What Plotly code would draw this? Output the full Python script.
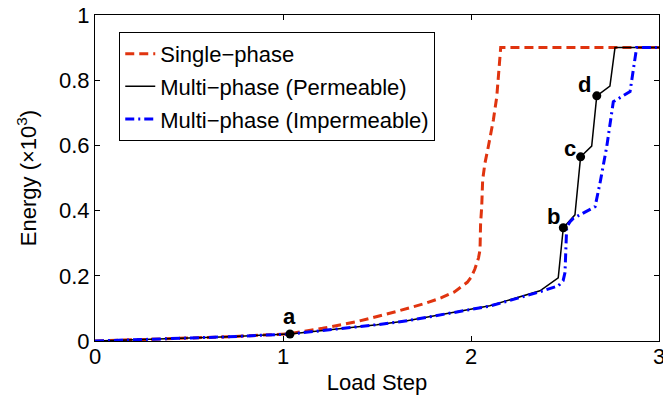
import plotly.graph_objects as go

# ---- data ----
single_x = [0, 0.35, 0.71, 1.03, 1.21, 1.39, 1.6, 1.76, 1.84, 1.91, 1.98, 2.0, 2.02, 2.04,
            2.048, 2.051, 2.057, 2.062, 2.074, 2.092, 2.119, 2.137, 2.154, 2.158, 3.0]
single_y = [0, 0.006, 0.013, 0.022, 0.039, 0.059, 0.09, 0.116, 0.132, 0.150, 0.180, 0.195,
            0.22, 0.255, 0.28, 0.36, 0.412, 0.494, 0.545, 0.596, 0.678, 0.749, 0.852, 0.9, 0.9]

perm_x = [0, 0.35, 0.71, 1.037, 1.3, 1.5, 1.66, 1.835, 2.1, 2.367, 2.464, 2.491, 2.553,
          2.583, 2.642, 2.669, 2.739, 2.766, 3.0]
perm_y = [0, 0.006, 0.013, 0.0215, 0.037, 0.050, 0.062, 0.080, 0.108, 0.154, 0.194, 0.3475,
          0.387, 0.565, 0.598, 0.752, 0.782, 0.9, 0.9]

imp_x = [0, 0.35, 0.71, 1.037, 1.3, 1.5, 1.66, 1.835, 2.1, 2.367, 2.464, 2.49, 2.50, 2.509,
         2.527, 2.544, 2.66, 2.686, 2.722, 2.757, 2.846, 2.881, 3.0]
imp_y = [0, 0.006, 0.013, 0.0215, 0.037, 0.050, 0.062, 0.080, 0.107, 0.151, 0.169, 0.185,
         0.21, 0.35, 0.366, 0.376, 0.412, 0.484, 0.596, 0.734, 0.765, 0.9, 0.9]

point_labels = ["a", "b", "c", "d"]
point_x = [1.037, 2.491, 2.583, 2.669]
point_y = [0.0215, 0.3475, 0.565, 0.752]
label_dx = [0, -10, -11, -12]
label_dy = [17, 11, 8, 11]

x_ticks = [0, 1, 2, 3]
y_ticks = [0, 0.2, 0.4, 0.6, 0.8, 1]
y_tick_text = ["0", "0.2", "0.4", "0.6", "0.8", "1"]

FONT = "Liberation Sans, Arial, sans-serif"
FS = 22

fig = go.Figure()
fig.add_trace(go.Scatter(x=single_x, y=single_y, mode="lines", name="Single\u2212phase",
                         legendgroup="g1",
                         line=dict(color="#E0340F", width=3, dash="9px,5px")))
fig.add_trace(go.Scatter(x=perm_x, y=perm_y, mode="lines", name="Multi\u2212phase (Permeable)",
                         legendgroup="g2",
                         line=dict(color="black", width=1.5)))
fig.add_trace(go.Scatter(x=imp_x, y=imp_y, mode="lines", name="Multi\u2212phase (Impermeable)",
                         legendgroup="g3",
                         line=dict(color="#0000FF", width=3, dash="9px,4px,2px,4px")))
fig.add_trace(go.Scatter(x=point_x, y=point_y, mode="markers", showlegend=False,
                         marker=dict(color="black", size=9)))

for lab, px, py, dx, dy in zip(point_labels, point_x, point_y, label_dx, label_dy):
    fig.add_annotation(x=px, y=py, xref="x", yref="y", text="<b>%s</b>" % lab,
                       showarrow=False, xshift=dx, yshift=dy,
                       font=dict(family=FONT, size=FS, color="black"))

axis_common = dict(showline=True, linecolor="black", linewidth=1, mirror="ticks",
                   ticks="inside", ticklen=5, tickcolor="black", tickwidth=1,
                   showgrid=False, zeroline=False, ticklabeloverflow="allow",
                   automargin=False,
                   tickfont=dict(family=FONT, size=FS, color="black"))

fig.update_xaxes(range=[0, 3], tickvals=x_ticks, ticklabelstandoff=-4,
                 title=dict(text="Load Step", font=dict(family=FONT, size=FS, color="black"),
                            standoff=6),
                 **axis_common)
fig.update_yaxes(range=[0, 1], tickvals=y_ticks, ticktext=y_tick_text,
                 title=dict(text="Energy (\u00d710<sup>3</sup>)",
                            font=dict(family=FONT, size=FS, color="black"), standoff=16),
                 **axis_common)

fig.update_layout(
    width=663, height=395,
    margin=dict(l=95, r=4, t=15, b=54, autoexpand=False),
    plot_bgcolor="white", paper_bgcolor="white",
    font=dict(family=FONT, size=FS, color="black"),
    legend=dict(x=0.043, y=0.948, xanchor="left", yanchor="top",
                bordercolor="black", borderwidth=1, bgcolor="white",
                tracegroupgap=1, font=dict(family=FONT, size=FS, color="black")),
)

fig.write_html("out.html")
